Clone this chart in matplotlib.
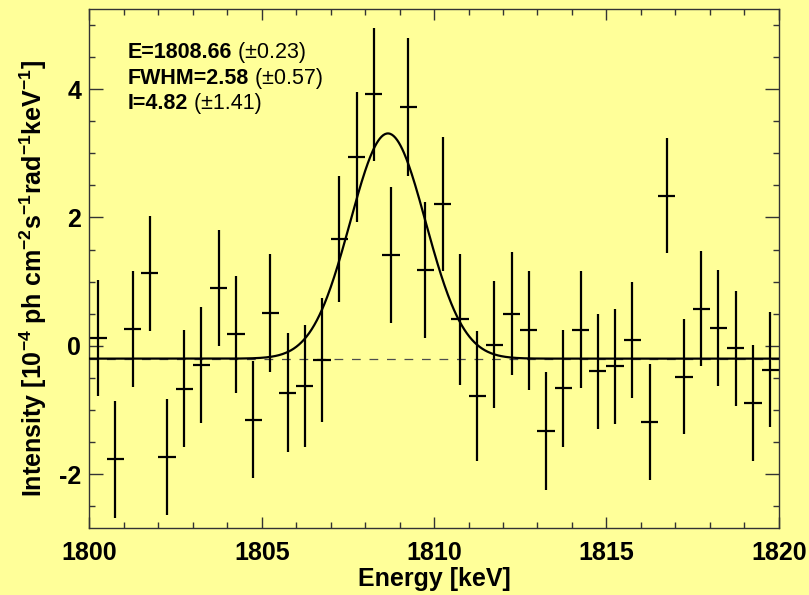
import numpy as np
import matplotlib
matplotlib.use("Agg")
import matplotlib.pyplot as plt
from matplotlib.ticker import MultipleLocator

plt.rcParams['font.family'] = ['Liberation Sans', 'DejaVu Sans']
plt.rcParams['mathtext.default'] = 'regular'
plt.rcParams['axes.unicode_minus'] = False

# spectrum: 0.5 keV bins, intensity in 1e-4 ph cm-2 s-1 rad-1 keV-1
bin_width = 0.5
energy = np.arange(1800.25, 1820.0, bin_width)
flux = [0.12, -1.77, 0.26, 1.13, -1.73, -0.67, -0.30, 0.90, 0.18, -1.15,
        0.51, -0.73, -0.62, -0.22, 1.66, 2.94, 3.92, 1.41, 3.72, 1.18,
        2.21, 0.41, -0.78, 0.02, 0.50, 0.24, -1.33, -0.66, 0.25, -0.40,
        -0.32, 0.09, -1.19, 2.34, -0.48, 0.58, 0.28, -0.04, -0.89, -0.37]
flux_err = [0.90, 0.91, 0.90, 0.90, 0.90, 0.91, 0.91, 0.91, 0.91, 0.91,
            0.92, 0.93, 0.95, 0.97, 0.98, 1.01, 1.04, 1.06, 1.07, 1.06,
            1.05, 1.02, 1.01, 0.99, 0.96, 0.93, 0.92, 0.91, 0.91, 0.90,
            0.90, 0.90, 0.90, 0.90, 0.90, 0.90, 0.90, 0.90, 0.90, 0.90]

# gaussian line fit
line_e, line_e_err = 1808.66, 0.23
fwhm, fwhm_err = 2.58, 0.57
line_int, line_int_err = 4.82, 1.41
baseline = -0.20

sigma = fwhm / (2 * np.sqrt(2 * np.log(2)))
amp = line_int / (sigma * np.sqrt(2 * np.pi)) / bin_width
e_fine = np.linspace(1800, 1820, 801)
model = baseline + amp * np.exp(-(e_fine - line_e) ** 2 / (2 * sigma ** 2))

bg = '#ffff99'
fig = plt.figure(figsize=(8.09, 5.95), dpi=100, facecolor=bg)
ax = fig.add_axes([0.1106, 0.1126, 0.852, 0.8723], facecolor=bg)

ax.plot([1800, 1820], [baseline, baseline], color='0.3', lw=0.9,
        ls=(0, (7, 7)), zorder=1)
ax.plot(e_fine, model, color='k', lw=1.6, zorder=3)
ax.errorbar(energy, flux, xerr=bin_width / 2, yerr=flux_err, fmt='none',
            ecolor='k', elinewidth=1.6, capsize=0, zorder=2)

ax.set_xlim(1800, 1820)
ax.set_ylim(-2.84, 5.25)
ax.xaxis.set_major_locator(MultipleLocator(5))
ax.xaxis.set_minor_locator(MultipleLocator(1))
ax.yaxis.set_major_locator(MultipleLocator(2))
ax.yaxis.set_minor_locator(MultipleLocator(0.5))
ax.tick_params(which='both', direction='in', top=True, right=True,
               width=1, color='0.2')
ax.tick_params(axis='x', which='major', length=8, pad=9)
ax.tick_params(axis='y', which='major', length=10, pad=6)
ax.tick_params(which='minor', length=4)
for lab in ax.get_xticklabels() + ax.get_yticklabels():
    lab.set_fontsize(18)
    lab.set_fontweight('bold')
for sp in ax.spines.values():
    sp.set_linewidth(1)
    sp.set_color('0.2')

ax.set_xlabel('Energy [keV]', fontsize=18, fontweight='bold', labelpad=2)
ax.set_ylabel(r'Intensity [10$^{-4}$ ph cm$^{-2}$s$^{-1}$rad$^{-1}$keV$^{-1}$]',
              fontsize=18, fontweight='bold')
ax.yaxis.set_label_coords(-0.058, 0.48)

rows = [('E=%.2f' % line_e, ' (\u00b1%.2f)' % line_e_err, 0.916),
        ('FWHM=%.2f' % fwhm, ' (\u00b1%.2f)' % fwhm_err, 0.866),
        ('I=%.2f' % line_int, ' (\u00b1%.2f)' % line_int_err, 0.817)]
for bold_txt, err_txt, yy in rows:
    t = ax.text(0.056, yy, bold_txt, transform=ax.transAxes, fontsize=15.5,
                fontweight='bold', va='center', ha='left')
    ax.annotate(err_txt, xy=(1, 0), xycoords=t, fontsize=15.5,
                va='bottom', ha='left')

fig.savefig('out.png', dpi=100, facecolor=bg)
